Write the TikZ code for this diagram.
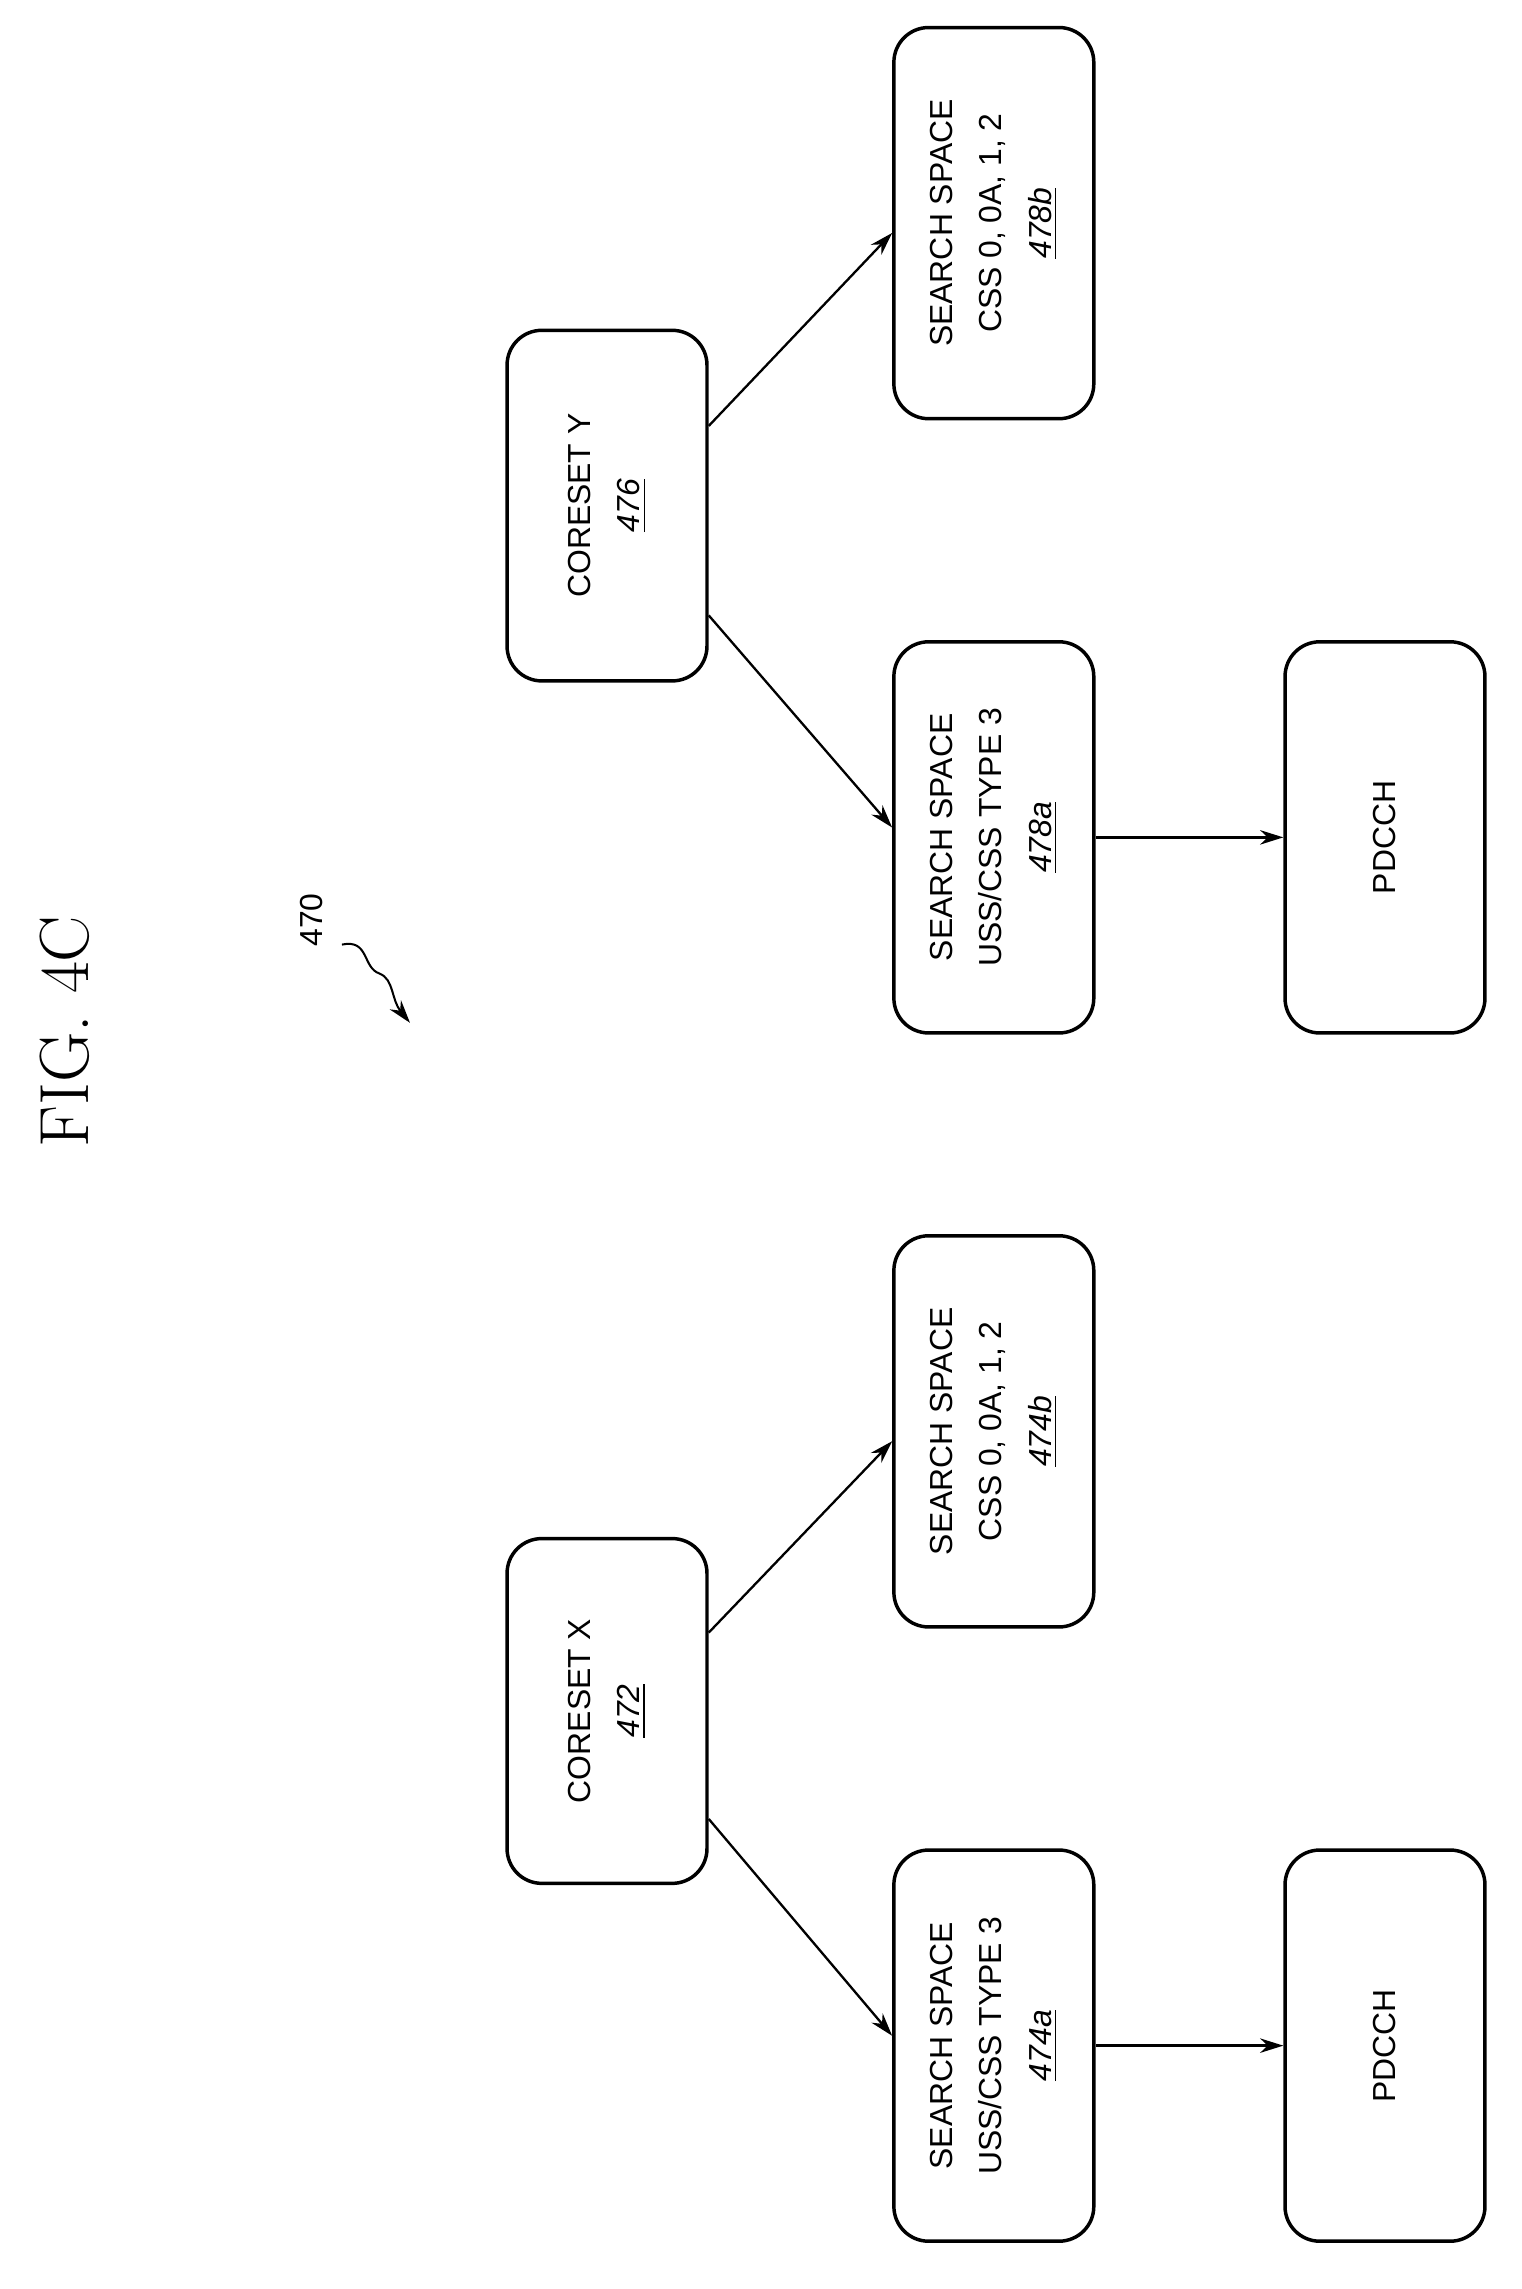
\documentclass[tikz,border=0pt]{standalone}
\usepackage{fontspec}
\setsansfont{Liberation Sans}
\usetikzlibrary{arrows.meta,calc}
\begin{document}
\begin{tikzpicture}[x=0.5pt,y=-0.5pt,
  box/.style={draw,line width=1.2pt,rounded corners=12pt,rotate=90,align=center,
    minimum width=#1*0.5pt,minimum height=69pt,inner sep=2pt,
    font=\sffamily\fontsize{11}{17}\selectfont},
  box/.default=270,
  arr/.style={-{Stealth[length=8pt,width=5pt]},line width=0.8pt}]
\useasboundingbox (0,0) rectangle (1050,1580);
\node[rotate=90,font=\fontsize{24}{28}\selectfont] (fig) at (45,712) {FIG.\ 4C};
\node[rotate=90,font=\sffamily\fontsize{11}{13}\selectfont] (lbl) at (215,635) {470};
\coordinate (tip) at (283,706);
\draw[arr,line width=0.7pt] (236,652) .. controls (255,648) and (250,668) .. (262,672) .. controls (272,676) and (270,690) .. (tip);

\node[box=242] (cy) at (419,349) {CORESET Y\\\underline{\itshape 476}};
\node[box] (sb) at (686,154) {SEARCH SPACE\\CSS 0, 0A, 1, 2\\\underline{\itshape 478b}};
\node[box] (sa) at (686,578) {SEARCH SPACE\\USS/CSS TYPE 3\\\underline{\itshape 478a}};
\node[box] (pa) at (956,578) {PDCCH};

\node[box=238] (cx) at (419,1181) {CORESET X\\\underline{\itshape 472}};
\node[box] (xb) at (686,988) {SEARCH SPACE\\CSS 0, 0A, 1, 2\\\underline{\itshape 474b}};
\node[box] (xa) at (686,1412) {SEARCH SPACE\\USS/CSS TYPE 3\\\underline{\itshape 474a}};
\node[box] (px) at (956,1412) {PDCCH};

\draw[arr] ($(cy.south)!0.45!(cy.south east)$) -- ($(sb.north)!0.05!(sb.north west)$);
\draw[arr] ($(cy.south)!0.62!(cy.south west)$) -- ($(sa.north)!0.05!(sa.north east)$);
\draw[arr] (sa.south) -- (pa.north);
\draw[arr] ($(cx.south)!0.45!(cx.south east)$) -- ($(xb.north)!0.05!(xb.north west)$);
\draw[arr] ($(cx.south)!0.62!(cx.south west)$) -- ($(xa.north)!0.05!(xa.north east)$);
\draw[arr] (xa.south) -- (px.north);
\end{tikzpicture}
\end{document}
